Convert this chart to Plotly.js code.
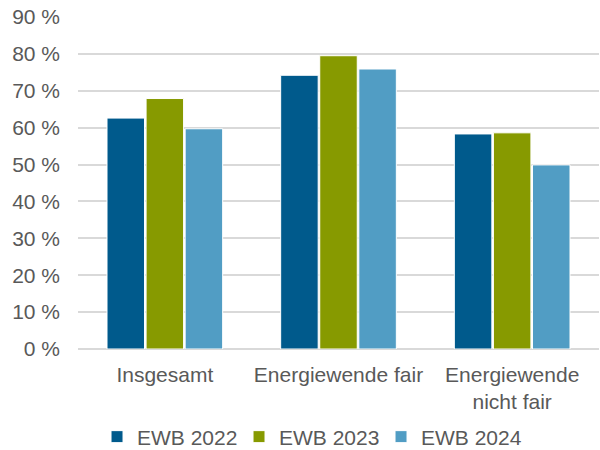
<!DOCTYPE html>
<html>
<head>
<meta charset="utf-8">
<script src="https://cdn.plot.ly/plotly-3.0.1.min.js"></script>
<style>html,body{margin:0;padding:0;background:#fff;}#chart{width:600px;height:450px;}</style>
</head>
<body>
<div id="chart"></div>
<script>
var categories = ["Insgesamt", "Energiewende fair", "Energiewende<br>nicht fair"];
var seriesNames = ["EWB 2022", "EWB 2023", "EWB 2024"];
var ewb2022 = [62.6, 74.2, 58.3];
var ewb2023 = [67.9, 79.5, 58.6];
var ewb2024 = [59.7, 75.9, 49.9];
var colors = ["#005A8C", "#879A00", "#519DC4"];
var tickVals = [0, 10, 20, 30, 40, 50, 60, 70, 80, 90];
var tickText = ["0 %", "10 %", "20 %", "30 %", "40 %", "50 %", "60 %", "70 %", "80 %", "90 %"];

var allValues = [ewb2022, ewb2023, ewb2024];
var traces = allValues.map(function (vals, i) {
  return {
    type: "bar",
    name: seriesNames[i],
    x: categories,
    y: vals,
    marker: { color: colors[i], line: { color: "#ffffff", width: 1 } },
    hoverinfo: "skip"
  };
});

var font = { family: "Liberation Sans, Arial, sans-serif", size: 21, color: "#595959" };

var layout = {
  width: 600, height: 450,
  margin: { l: 78, r: 1, t: 17, b: 101, autoexpand: false },
  paper_bgcolor: "#ffffff", plot_bgcolor: "#ffffff",
  font: font,
  barmode: "group",
  bargap: 0.325,
  bargroupgap: 0.04,
  showlegend: true,
  legend: {
    orientation: "h",
    x: 0.0365, xanchor: "left",
    y: -0.265, yanchor: "middle",
    font: font,
    traceorder: "normal",
    itemwidth: 30,
    entrywidth: 97,
    entrywidthmode: "pixels"
  },
  xaxis: {
    type: "category",
    showgrid: false,
    showline: false,
    zeroline: false,
    ticks: "",
    ticklabelstandoff: 11,
    tickfont: font,
    fixedrange: true
  },
  yaxis: {
    range: [0, 90],
    tickvals: tickVals,
    ticktext: tickText,
    showgrid: true,
    gridcolor: "#d9d9d9",
    gridwidth: 2,
    zeroline: true,
    zerolinecolor: "#d9d9d9",
    zerolinewidth: 2,
    showline: false,
    ticks: "",
    ticklabelstandoff: 17,
    tickfont: font,
    fixedrange: true
  }
};

Plotly.newPlot("chart", traces, layout, { staticPlot: true, displayModeBar: false });
</script>
</body>
</html>
